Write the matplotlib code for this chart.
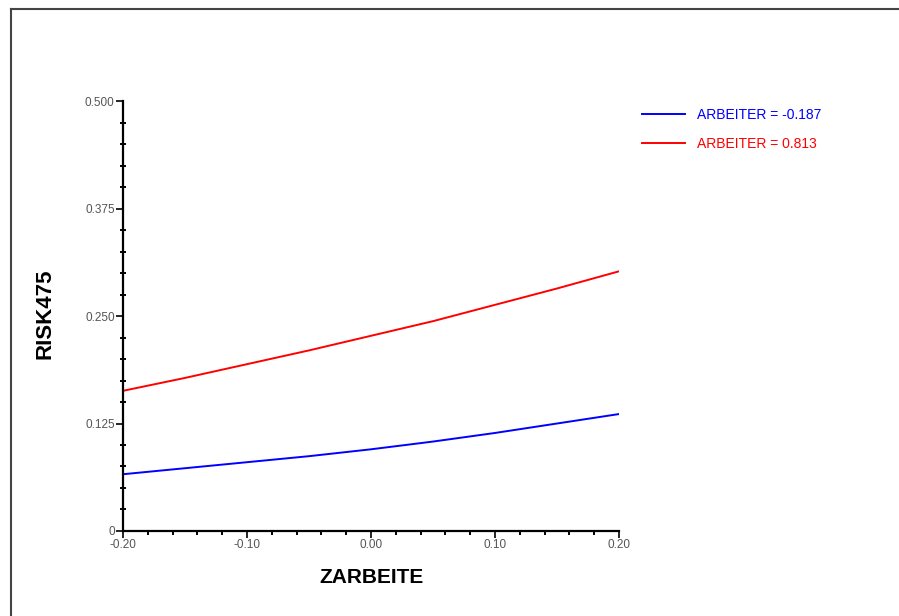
import matplotlib
matplotlib.use("Agg")
import matplotlib.pyplot as plt
from matplotlib.lines import Line2D
from matplotlib.ticker import MultipleLocator, FixedLocator

plt.rcParams["font.family"] = ["Liberation Sans", "DejaVu Sans"]
plt.rcParams["axes.unicode_minus"] = False

# values
zarbeite = [-0.20, -0.15, -0.10, -0.05, 0.00, 0.05, 0.10, 0.15, 0.20]
risk_low = [0.066, 0.073, 0.080, 0.087, 0.095, 0.104, 0.114, 0.125, 0.136]
risk_high = [0.163, 0.178, 0.194, 0.210, 0.227, 0.244, 0.263, 0.282, 0.302]

labels = ["ARBEITER = -0.187", "ARBEITER = 0.813"]
colors = ["#0000ff", "#ff0000"]

yticks = [0, 0.125, 0.250, 0.375, 0.500]
ytick_labels = ["0", "0.125", "0.250", "0.375", "0.500"]
xticks = [-0.20, -0.10, 0.00, 0.10, 0.20]
xtick_labels = ["-0.20", "-0.10", "0.00", "0.10", "0.20"]

fig = plt.figure(figsize=(8.99, 6.16), dpi=100)
ax = fig.add_axes([0.1368, 0.138, 0.5518, 0.698])

ax.plot(zarbeite, risk_low, color=colors[0], lw=1.4, label=labels[0])
ax.plot(zarbeite, risk_high, color=colors[1], lw=1.4, label=labels[1])

ax.set_xlim(-0.20, 0.20)
ax.set_ylim(0, 0.5)

ax.spines["top"].set_visible(False)
ax.spines["right"].set_visible(False)
for s in ("left", "bottom"):
    ax.spines[s].set_linewidth(1.6)
    ax.spines[s].set_color("black")

ax.yaxis.set_major_locator(FixedLocator(yticks))
ax.set_yticklabels(ytick_labels)
ax.yaxis.set_minor_locator(MultipleLocator(0.025))
ax.xaxis.set_major_locator(FixedLocator(xticks))
ax.set_xticklabels(xtick_labels)
ax.xaxis.set_minor_locator(MultipleLocator(0.02))

ax.tick_params(which="major", direction="out", length=5, width=1.2,
               labelsize=8.5, labelcolor="#555555", pad=1)
ax.tick_params(axis="y", which="minor", direction="inout", length=4, width=1.4)
ax.tick_params(axis="x", which="minor", direction="out", length=3, width=1.4)

ax.set_xlabel("ZARBEITE", fontsize=15, fontweight="bold", labelpad=12)
ax.set_ylabel("RISK475", fontsize=16, fontweight="bold")
ax.yaxis.set_label_coords(-0.137, 0.505)

leg = ax.legend(loc="upper left", bbox_to_anchor=(0.714, 0.825),
                bbox_transform=fig.transFigure, frameon=False, fontsize=10,
                handlelength=3.1, handletextpad=0.86, labelspacing=1.12,
                borderpad=0, borderaxespad=0, labelcolor="linecolor")

# frame lines along the top and left edge of the picture
fig.add_artist(Line2D([10.5 / 899, 1], [1 - 8.5 / 616, 1 - 8.5 / 616],
                      transform=fig.transFigure, color="#444444", lw=1.5))
fig.add_artist(Line2D([10.5 / 899, 10.5 / 899], [0, 1 - 8.5 / 616],
                      transform=fig.transFigure, color="#444444", lw=1.5))

fig.savefig("out.png", dpi=100)
